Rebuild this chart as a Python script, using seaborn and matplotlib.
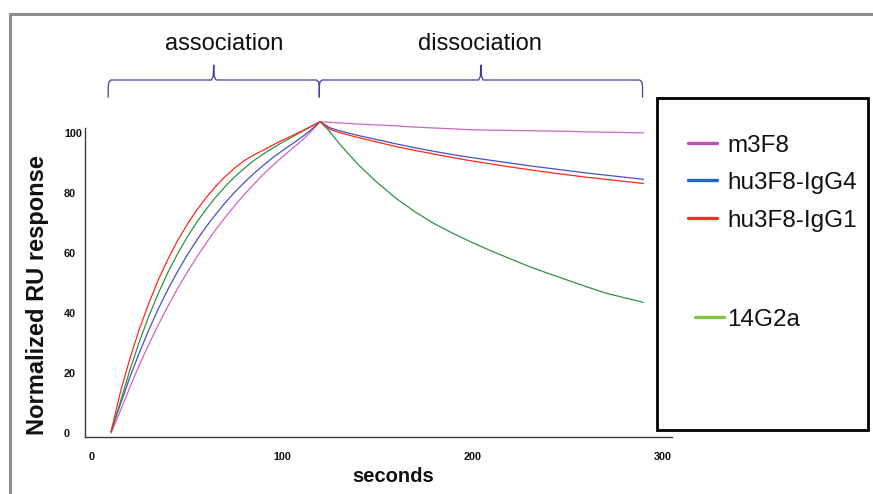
import numpy as np
import pandas as pd
import matplotlib
matplotlib.use("Agg")
import matplotlib.pyplot as plt
import seaborn as sns
from matplotlib.lines import Line2D
from matplotlib.patches import Rectangle

# ---------------- data ----------------
series = ["m3F8", "hu3F8-IgG4", "hu3F8-IgG1", "14G2a"]

assoc_time = [10, 15, 20, 25, 30, 35, 40, 45, 50, 55, 60, 65, 70, 75, 80,
              85, 90, 95, 100, 105, 110, 115, 120]
dissoc_time = [125, 130, 140, 150, 160, 170, 180, 190, 200, 210, 220, 230,
               240, 250, 260, 270, 280, 290]

m3F8_assoc = [0.0, 7.6, 15.4, 22.9, 29.8, 36.3, 42.4, 48.2, 53.5, 58.6, 63.3,
              67.8, 71.9, 75.8, 79.5, 82.9, 86.2, 89.2, 92.0, 94.7, 97.3,
              100.4, 103.8]
igg4_assoc = [0.5, 9.8, 18.8, 27.0, 34.6, 41.6, 48.0, 53.9, 59.3, 64.2, 68.8,
              72.9, 76.8, 80.3, 83.5, 86.5, 89.2, 91.8, 94.1, 96.3, 98.5,
              101.0, 103.8]
igg1_assoc = [0.5, 13.9, 25.0, 34.9, 43.5, 51.3, 58.1, 64.2, 69.5, 74.3, 78.5,
              82.2, 85.5, 88.4, 90.8, 92.7, 94.3, 96.0, 97.6, 99.1, 100.6,
              102.2, 103.8]
g2a_assoc = [0.3, 10.6, 21.2, 30.7, 39.2, 46.8, 53.7, 59.8, 65.3, 70.2, 74.6,
             78.6, 82.2, 85.4, 88.2, 90.8, 93.0, 95.0, 96.9, 98.6, 100.4,
             102.1, 103.8]

m3F8_dissoc = [103.6, 103.4, 103.0, 102.7, 102.4, 102.0, 101.7, 101.4, 101.1,
               101.0, 100.9, 100.8, 100.7, 100.6, 100.4, 100.3, 100.2, 100.1]
igg4_dissoc = [101.8, 100.8, 99.2, 97.8, 96.4, 95.1, 93.9, 92.8, 91.8, 90.9,
               90.0, 89.1, 88.3, 87.5, 86.7, 86.0, 85.3, 84.6]
igg1_dissoc = [101.3, 100.2, 98.5, 97.0, 95.5, 94.2, 93.0, 91.8, 90.7, 89.7,
               88.7, 87.8, 86.9, 86.1, 85.3, 84.6, 83.9, 83.2]
g2a_dissoc = [100.5, 96.5, 89.5, 83.5, 78.2, 73.7, 69.8, 66.5, 63.5, 60.7,
              58.1, 55.5, 53.2, 51.0, 48.8, 46.7, 45.1, 43.6]

x_ticks = [0, 100, 200, 300]
y_ticks = [0, 20, 40, 60, 80, 100]

phases = ["association", "dissociation"]
phase_bounds = [(8.5, 119.5), (119.5, 289.5)]

# ---------------- styling ----------------
line_colors = {"m3F8": "#cc66c8", "hu3F8-IgG4": "#4a4fc4",
               "hu3F8-IgG1": "#ff2a1a", "14G2a": "#2f9248"}
legend_colors = {"m3F8": "#c84ab4", "hu3F8-IgG4": "#1f66c4",
                 "hu3F8-IgG1": "#f03224", "14G2a": "#80c442"}

assoc = {"m3F8": m3F8_assoc, "hu3F8-IgG4": igg4_assoc,
         "hu3F8-IgG1": igg1_assoc, "14G2a": g2a_assoc}
dissoc = {"m3F8": m3F8_dissoc, "hu3F8-IgG4": igg4_dissoc,
          "hu3F8-IgG1": igg1_dissoc, "14G2a": g2a_dissoc}

rows = []
for s in series:
    for t, v in zip(assoc_time + dissoc_time, assoc[s] + dissoc[s]):
        rows.append({"series": s, "seconds": t, "response": v})
df = pd.DataFrame(rows)

sns.set_theme(style="white")
plt.rcParams["font.family"] = ["Liberation Sans", "DejaVu Sans"]

W, H = 873, 494
fig = plt.figure(figsize=(W / 100, H / 100), dpi=100)
fig.patch.set_facecolor("white")

ax_left, ax_right, ax_bottom, ax_top = 85, 672, 437, 128
ax = fig.add_axes([ax_left / W, 1 - ax_bottom / H,
                   (ax_right - ax_left) / W, (ax_bottom - ax_top) / H])
ax.set_facecolor("white")

draw_order = ["m3F8", "hu3F8-IgG4", "14G2a", "hu3F8-IgG1"]
sns.lineplot(data=df, x="seconds", y="response", hue="series",
             hue_order=draw_order, palette=line_colors, sort=False,
             estimator=None, linewidth=0.9, legend=False, ax=ax)
for ln in ax.lines:
    ln.set_clip_on(False)

ax.set_xlim(-3.7, 305)
ax.set_ylim(-1.3, 101.7)
ax.set_xticks(x_ticks)
ax.set_yticks(y_ticks)
ax.set_xticklabels([str(v) for v in x_ticks], fontweight="bold", fontsize=7.8)
ax.set_yticklabels([str(v) for v in y_ticks], fontweight="bold", fontsize=7.8)
for lbl in ax.get_yticklabels():
    lbl.set_horizontalalignment("left")
ax.tick_params(axis="y", length=0, pad=15.2, colors="#111111")
ax.tick_params(axis="x", length=0, pad=11, colors="#111111")
ax.set_xlabel("")
ax.set_ylabel("")
for side in ["top", "right"]:
    ax.spines[side].set_visible(False)
for side in ["left", "bottom"]:
    ax.spines[side].set_color("#3a3a3a")
    ax.spines[side].set_linewidth(1.0)

# axis titles
fig.text(393 / W, 1 - 476 / H, "seconds", ha="center", va="center",
         fontsize=14.5, fontweight="bold", color="#111111")
fig.text(38 / W, 1 - 295 / H, "Normalized RU response", ha="center",
         va="center", rotation=90, fontsize=17, fontweight="bold",
         color="#111111")

# phase braces
brace_color = "#3d3f99"
y_base, y_bar, y_tip = 112.0, 117.7, 122.7
for name, (x0, x1), tx in zip(phases, phase_bounds, [69.5, 204.0]):
    xm = (x0 + x1) / 2
    bx = [x0, x0, x0 + 0.4, x0 + 1.5, xm - 1.2, xm - 0.3, xm, xm + 0.3,
          xm + 1.2, x1 - 1.5, x1 - 0.4, x1, x1]
    by = [y_base, y_bar - 2.2, y_bar - 0.6, y_bar, y_bar, y_bar + 1.2, y_tip,
          y_bar + 1.2, y_bar, y_bar, y_bar - 0.6, y_bar - 2.2, y_base]
    ax.plot(bx, by, color=brace_color, lw=0.9, clip_on=False)
    ax.text(tx, 129.8, name, ha="center", va="center", fontsize=17,
            color="#111111", clip_on=False)

# legend box (custom)
box = Rectangle((657 / W, 1 - 430 / H), (868 - 657) / W, (430 - 98) / H,
                transform=fig.transFigure, fill=False, edgecolor="black",
                linewidth=2.0)
fig.add_artist(box)
legend_rows = [("m3F8", 688, 717, 143), ("hu3F8-IgG4", 688, 717, 180),
               ("hu3F8-IgG1", 688, 717, 218), ("14G2a", 695, 724, 317)]
for s, lx0, lx1, ly in legend_rows:
    fig.add_artist(Line2D([lx0 / W, lx1 / W], [1 - ly / H, 1 - ly / H],
                          transform=fig.transFigure, color=legend_colors[s],
                          linewidth=2.4))
    fig.text(727 / W, 1 - (ly + 9) / H, s, ha="left", va="baseline",
             fontsize=17.5, color="#111111")

# outer grey frame
fc = "#8e8e8e"
fig.add_artist(Line2D([10 / W, 1.0], [1 - 14 / H, 1 - 14 / H],
                      transform=fig.transFigure, color=fc, linewidth=2.2))
fig.add_artist(Line2D([10 / W, 10 / W], [0, 1 - 14 / H],
                      transform=fig.transFigure, color=fc, linewidth=2.2))

fig.savefig("out.png", dpi=100, facecolor="white")
